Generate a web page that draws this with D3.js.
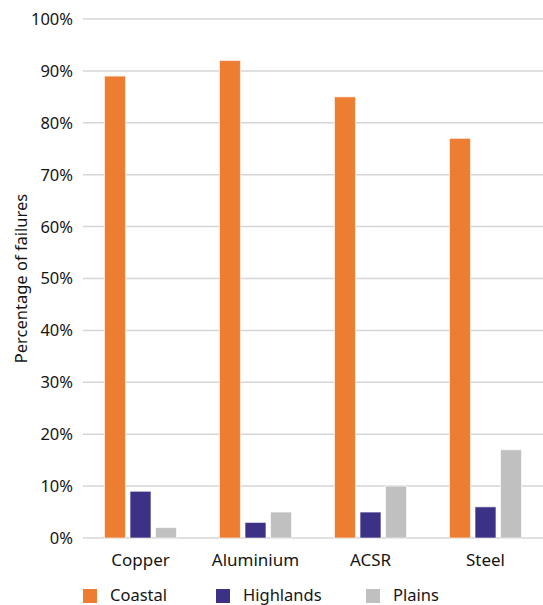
<!DOCTYPE html>
<html>
<head>
<meta charset="utf-8">
<script src="https://cdn.jsdelivr.net/npm/d3@7"></script>
<style>
  html, body { margin: 0; padding: 0; background: #fff; }
  svg { display: block; font-family: "Noto Sans", "Open Sans", sans-serif; }
</style>
</head>
<body>
<svg id="chart" width="543" height="605"></svg>
<script>
// Failure share per conductor material, by region
const categories = ["Copper", "Aluminium", "ACSR", "Steel"];
const seriesNames = ["Coastal", "Highlands", "Plains"];
const coastal = [89, 92, 85, 77];
const highlands = [9, 3, 5, 6];
const plains = [2, 5, 10, 17];
const yTicks = [0, 10, 20, 30, 40, 50, 60, 70, 80, 90, 100];
const colors = ["#ED7D31", "#3B3285", "#BFC0BF"];

const series = [coastal, highlands, plains];

const svg = d3.select("#chart");
const margin = { left: 83, right: 0, top: 19, bottom: 67 };
const W = 543, H = 605;
const plotBottom = H - margin.bottom; // 538
const textColor = "#151515";

const x0 = d3.scaleBand().domain(categories).range([margin.left, W - margin.right]).padding(0);
const groupPad = 21.5;
const x1 = d3.scaleBand().domain(seriesNames)
  .range([groupPad, x0.bandwidth() - groupPad]).paddingInner(0.18);
const y = d3.scaleLinear().domain([0, 100]).range([plotBottom, margin.top]);

// Gridlines
svg.append("g")
  .selectAll("line")
  .data(yTicks)
  .join("line")
  .attr("x1", margin.left)
  .attr("x2", W)
  .attr("y1", d => y(d))
  .attr("y2", d => y(d))
  .attr("stroke", "#d6d6d6")
  .attr("stroke-width", 1.5);

// Y tick labels
svg.append("g")
  .selectAll("text")
  .data(yTicks)
  .join("text")
  .attr("x", 73)
  .attr("y", d => y(d))
  .attr("dy", "0.36em")
  .attr("text-anchor", "end")
  .attr("font-size", 16.5)
  .attr("fill", textColor)
  .text(d => d + "%");

// Y axis title
svg.append("text")
  .attr("transform", `translate(27, ${(margin.top + plotBottom) / 2}) rotate(-90)`)
  .attr("text-anchor", "middle")
  .attr("font-size", 16.5)
  .attr("fill", textColor)
  .text("Percentage of failures");

// Bars
const groups = svg.append("g")
  .selectAll("g")
  .data(categories)
  .join("g")
  .attr("transform", d => `translate(${x0(d)},0)`);

groups.selectAll("rect")
  .data((c, i) => seriesNames.map((s, k) => ({ s, k, v: series[k][i] })))
  .join("rect")
  .attr("x", d => x1(d.s))
  .attr("width", x1.bandwidth())
  .attr("y", d => y(d.v))
  .attr("height", d => y(0) - y(d.v))
  .attr("fill", d => colors[d.k])
  .attr("stroke", "#ffffff")
  .attr("stroke-opacity", 0.6)
  .attr("stroke-width", 1);

// Category labels
svg.append("g")
  .selectAll("text")
  .data(categories)
  .join("text")
  .attr("x", d => x0(d) + x0.bandwidth() / 2)
  .attr("y", 566)
  .attr("text-anchor", "middle")
  .attr("font-size", 17)
  .attr("fill", textColor)
  .text(d => d);

// Legend
const legendX = [83, 216, 366];
const legend = svg.append("g")
  .selectAll("g")
  .data(seriesNames)
  .join("g")
  .attr("transform", (d, i) => `translate(${legendX[i]}, 589)`);

legend.append("rect")
  .attr("width", 14)
  .attr("height", 14)
  .attr("fill", (d, i) => colors[i]);

legend.append("text")
  .attr("x", 27)
  .attr("y", 12)
  .attr("font-size", 16.5)
  .attr("fill", textColor)
  .text(d => d);
</script>
</body>
</html>
